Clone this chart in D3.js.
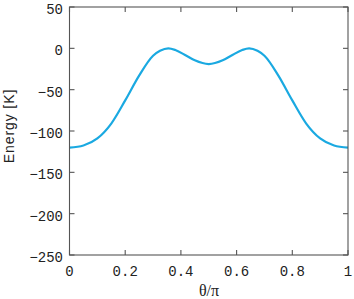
<!DOCTYPE html>
<html><head><meta charset="utf-8">
<script src="https://cdn.jsdelivr.net/npm/d3@7"></script>
<style>html,body{margin:0;padding:0;background:#fff;}</style>
</head><body>
<svg id="c" width="354" height="299"></svg>
<script>
const thetaOverPi = [0, 0.05, 0.1, 0.15, 0.2, 0.25, 0.3, 0.325, 0.355, 0.38, 0.42, 0.45, 0.5,
                     0.55, 0.58, 0.62, 0.645, 0.675, 0.7, 0.75, 0.8, 0.85, 0.9, 0.95, 1];
const energy = [-120, -117.5, -109, -91, -63, -33, -9, -3, 0, -2, -9, -14.5, -19,
                -14.5, -9, -2, 0, -3, -9, -33, -63, -91, -109, -117.5, -120];
const xTicks = [0, 0.2, 0.4, 0.6, 0.8, 1];
const xTickLabels = ["0", "0.2", "0.4", "0.6", "0.8", "1"];
const yTicks = [-250, -200, -150, -100, -50, 0, 50];
const yTickLabels = ["\u2212250", "\u2212200", "\u2212150", "\u2212100", "\u221250", "0", "50"];

const svg = d3.select("#c");
const L = 69.5, R = 348, T = 7, B = 255;
const x = d3.scaleLinear().domain([0, 1]).range([L, R]);
const y = d3.scaleLinear().domain([-250, 50]).range([B, T]);
const axisColor = "#555";
const tickFont = "'Liberation Mono', monospace";

// curve
const pts = thetaOverPi.map((t, i) => [t, energy[i]]);
svg.append("path").datum(pts)
  .attr("fill", "none").attr("stroke", "#1aa9e1").attr("stroke-width", 2.2)
  .attr("d", d3.line().x(d => x(d[0])).y(d => y(d[1])).curve(d3.curveMonotoneX));

// box
svg.append("rect").attr("x", L).attr("y", T).attr("width", R - L).attr("height", B - T)
  .attr("fill", "none").attr("stroke", axisColor).attr("stroke-width", 1.1);

// ticks
const tl = 5;
const g = svg.append("g").attr("stroke", axisColor).attr("stroke-width", 1.1);
xTicks.forEach(t => {
  g.append("line").attr("x1", x(t)).attr("x2", x(t)).attr("y1", B).attr("y2", B - tl);
  g.append("line").attr("x1", x(t)).attr("x2", x(t)).attr("y1", T).attr("y2", T + tl);
});
yTicks.forEach(v => {
  g.append("line").attr("x1", L).attr("x2", L + tl).attr("y1", y(v)).attr("y2", y(v));
  g.append("line").attr("x1", R).attr("x2", R - tl).attr("y1", y(v)).attr("y2", y(v));
});

// tick labels
svg.append("g").selectAll("text").data(xTicks).join("text")
  .attr("x", d => x(d)).attr("y", 275.5)
  .attr("text-anchor", "middle").attr("font-family", tickFont).attr("font-size", 14)
  .attr("fill", "#222").text((d, i) => xTickLabels[i]);
svg.append("g").selectAll("text").data(yTicks).join("text")
  .attr("x", 63).attr("y", d => y(d) + 7)
  .attr("text-anchor", "end").attr("font-family", tickFont).attr("font-size", 14)
  .attr("fill", "#222").text((d, i) => yTickLabels[i]);

// axis titles
svg.append("text").attr("x", 209).attr("y", 296)
  .attr("text-anchor", "middle").attr("font-family", "'Liberation Serif', serif").attr("font-size", 16)
  .attr("fill", "#222").text("θ/π");
svg.append("text").attr("transform", "translate(14,126) rotate(-90)")
  .attr("text-anchor", "middle").attr("font-family", "'Liberation Sans', Arial, sans-serif").attr("font-size", 14)
  .attr("letter-spacing", 0.9).attr("fill", "#222").text("Energy [K]");
</script>
</body></html>
